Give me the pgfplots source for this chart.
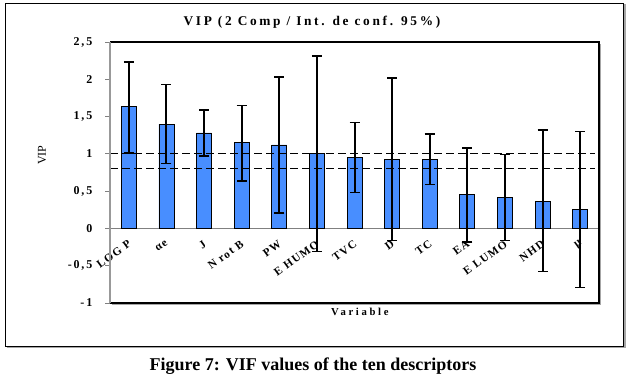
\documentclass[border=0pt]{standalone}
\usepackage{pgfplots}
\pgfplotsset{compat=1.18}
\usepackage{pgfplotstable}
\usepackage{fontspec}
\setmainfont{Liberation Serif}
\definecolor{barblue}{RGB}{72,142,255}
\pgfplotstableread{
x y ep em
0 1.63 0.60 0.62
1 1.40 0.53 0.53
2 1.28 0.31 0.31
3 1.15 0.50 0.51
4 1.12 0.91 0.91
5 1.00 1.31 1.31
6 0.95 0.47 0.47
7 0.93 1.09 1.09
8 0.93 0.34 0.34
9 0.45 0.63 0.63
10 0.41 0.58 0.57
11 0.36 0.96 0.94
12 0.25 1.05 1.04
}\vipdata
\begin{document}
\begin{tikzpicture}
\path[use as bounding box] (0,0) rectangle (481.5pt,288.75pt);
% outer frame with shadow
\draw[gray!70, line width=1.2pt] (5.0pt,28.0pt) -- (468.7pt,28.0pt) -- (468.7pt,285.5pt);
\draw[black, line width=0.6pt] (3.75pt,29.25pt) rectangle (467.25pt,286.5pt);
\begin{axis}[
  at={(82.5pt,61.5pt)}, anchor=south west,
  scale only axis, width=366.75pt, height=195.75pt,
  xmin=-0.5, xmax=12.5, ymin=-1, ymax=2.5,
  clip=false,
  axis x line*=middle, axis y line*=left,
  x axis line style={gray, line width=0.8pt},
  y axis line style={gray!80, line width=1.6pt},
  xtick={0,...,12},
  xticklabels={LOG P, αe, J, N rot B, PW, E HUMO, TVC, D, TC, EA, E LUMO, NHD, μ},
  x tick style={draw=none},
  xticklabel style={rotate=36, anchor=north east, font=\bfseries\fontsize{8.5}{9}\selectfont\addfontfeature{LetterSpace=12}, inner sep=1pt, xshift=-2.5pt, yshift=-2pt},
  ytick={-1,-0.5,...,2.5},
  tick align=outside,
  y tick style={gray, line width=0.6pt},
  major tick length=3.75pt,
  /pgf/number format/assume math mode=true,
  /pgf/number format/use comma,
  yticklabel style={font=\bfseries\fontsize{9}{10}\selectfont\addfontfeature{LetterSpace=15}, anchor=east, xshift=-6pt},
  ylabel={VIP},
  ylabel style={at={(axis description cs:-0.139,0.567)}, anchor=center, rotate=0, font=\fontsize{9}{10}\selectfont},
  xlabel={Variable},
  xlabel style={at={(axis description cs:0.511,-0.034)}, anchor=center, font=\bfseries\fontsize{8}{9}\selectfont\addfontfeature{LetterSpace=25}},
  title={VIP (2 Comp / Int. de conf. 95\%)},
  title style={at={(axis description cs:0.413,1.046)}, anchor=center, font=\bfseries\fontsize{10}{11}\selectfont\addfontfeature{LetterSpace=20}},
]
\addplot[ybar, bar width=11.25pt, fill=barblue, draw=black, line width=0.6pt,
  error bars/.cd, y dir=both, y explicit,
  error bar style={black, line width=1.5pt},
  error mark options={rotate=90, black, line width=1.2pt, mark size=3.75pt}]
  table[x=x, y=y, y error plus=ep, y error minus=em] {\vipdata};
\addplot[black, line width=0.7pt, dash pattern=on 6pt off 3pt] coordinates {(-0.5,1) (12.4,1)};
\addplot[black, line width=0.7pt, dash pattern=on 6pt off 3pt] coordinates {(-0.5,0.8) (12.4,0.8)};
% plot area frame
\draw[gray!70, line width=1.2pt] ([xshift=1.2pt,yshift=-1.2pt]rel axis cs:0,0) -- ([xshift=1.2pt,yshift=-1.2pt]rel axis cs:1,0) -- ([xshift=1.2pt,yshift=-1.2pt]rel axis cs:1,1);
\draw[black, line width=1.5pt] (rel axis cs:0,0) -- (rel axis cs:1,0) -- (rel axis cs:1,1) -- (rel axis cs:0,1);
\draw[gray!80, line width=1.6pt] (rel axis cs:0,0) -- (rel axis cs:0,1);
\end{axis}
\node[font=\bfseries\fontsize{13.5}{15}\selectfont] at (234.75pt,14.5pt) {Figure 7: VIF values of the ten descriptors};
\end{tikzpicture}
\end{document}
